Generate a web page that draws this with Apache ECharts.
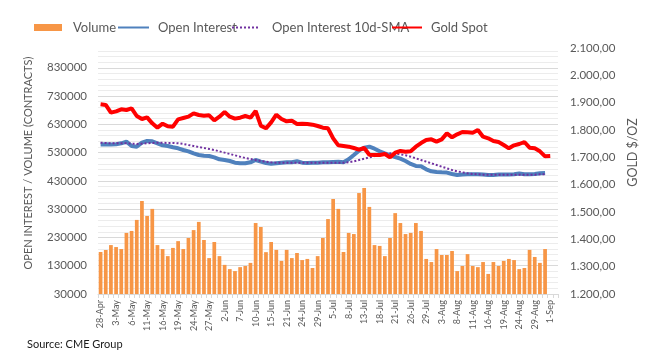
<!DOCTYPE html>
<html>
<head>
<meta charset="utf-8">
<script src="https://cdn.jsdelivr.net/npm/echarts@6/dist/echarts.min.js"></script>
<style>
html,body{margin:0;padding:0;background:#fff;}
#chart{width:656px;height:361px;}
</style>
</head>
<body>
<div id="chart"></div>
<script>
const dates = ["28-Apr","29-Apr","2-May","3-May","4-May","5-May","6-May","9-May","10-May","11-May","12-May","13-May","16-May","17-May","18-May","19-May","20-May","23-May","24-May","25-May","26-May","27-May","31-May","1-Jun","2-Jun","3-Jun","6-Jun","7-Jun","8-Jun","9-Jun","10-Jun","13-Jun","14-Jun","15-Jun","16-Jun","17-Jun","21-Jun","22-Jun","23-Jun","24-Jun","27-Jun","28-Jun","29-Jun","30-Jun","1-Jul","5-Jul","6-Jul","7-Jul","8-Jul","11-Jul","12-Jul","13-Jul","14-Jul","15-Jul","18-Jul","19-Jul","20-Jul","21-Jul","22-Jul","25-Jul","26-Jul","27-Jul","28-Jul","29-Jul","1-Aug","2-Aug","3-Aug","4-Aug","5-Aug","8-Aug","9-Aug","10-Aug","11-Aug","12-Aug","15-Aug","16-Aug","17-Aug","18-Aug","19-Aug","22-Aug","23-Aug","24-Aug","25-Aug","26-Aug","29-Aug","30-Aug","31-Aug","1-Sep",""];

const volume = [178500,185600,203000,196000,189000,246000,253000,292000,359000,306000,331000,203000,189000,164000,193000,217000,189000,228000,256000,285000,221000,157000,214000,164000,133000,118000,111000,125000,129000,140000,281000,267000,178000,214000,186000,147000,186000,157000,175000,150000,154000,122000,164000,
228000,295000,366000,331000,178500,246000,242000,387000,405000,338000,203000,200000,164000,228000,316000,281000,242000,246000,281000,253000,154000,143000,189000,168000,168000,182000,111000,129000,171000,129000,125000,143000,101000,143000,129000,147000,154000,150000,118000,122000,186000,161000,140000,189000];

const openInterest = [559000,559500,559000,559500,562900,568800,553500,551100,565300,571200,570000,562900,555800,553500,548800,545200,539300,534600,527500,521600,519300,518100,513400,506300,504000,500400,494500,492200,492200,495700,504000,498100,493300,491000,492200,494500,495700,495700,499300,494500,493300,494000,494500,
495700,495700,496900,498000,495700,506300,521600,537000,547600,551100,544000,534600,527500,520500,514600,508700,500400,489800,482800,481600,471000,464000,461600,460400,459300,454600,451000,452200,453400,453400,453400,452200,451000,451000,452200,452200,452200,453400,455800,453400,453400,454600,456900,458100];

const oiSma10 = [565300,564100,562900,562900,562900,562900,561700,560600,561700,562900,564100,565300,565300,564100,564100,562900,560600,557000,553500,549900,546400,542900,539300,534600,529900,525200,520500,515700,511000,507500,504000,500400,498100,495700,494500,494500,494500,494500,494500,494500,494500,494500,494500,
494500,494500,494500,494500,494500,495700,499300,504000,508700,513400,518100,522800,526300,527500,526300,524000,520500,515700,509900,504000,498100,492200,486300,480400,474500,468600,463900,460300,456800,454400,453300,452100,452100,452100,452100,452100,452100,452100,452100,452100,452100,452100,453300,453300];

const goldSpot = [1893.9,1891.5,1863.4,1868.3,1875.6,1873.2,1879.3,1851.2,1840.2,1846.3,1824.4,1808.5,1823.2,1813.4,1812.2,1839.0,1843.9,1848.8,1861.0,1854.9,1852.4,1853.7,1835.4,1848.8,1865.8,1848.8,1841.5,1845.1,1851.2,1845.1,1869.5,1815.9,1806.1,1828.0,1856.1,1840.2,1831.7,1834.1,1821.9,1823.2,1821.9,1819.5,1814.6,
1808.5,1806.1,1769.5,1743.9,1741.5,1739.0,1734.1,1728.0,1734.1,1709.7,1708.5,1708.5,1712.2,1700.0,1717.1,1723.2,1720.7,1722.0,1739.0,1752.4,1763.4,1765.9,1757.3,1765.9,1787.8,1773.2,1784.1,1792.7,1791.5,1790.2,1800.0,1775.6,1769.5,1759.8,1756.1,1745.1,1732.9,1743.9,1748.8,1756.1,1735.4,1732.9,1722.0,1703.7,1704.9];

const leftMin = 30000, leftMax = 900000, leftMajor = 100000;
const rightMin = 1200, rightMax = 2100, rightMajor = 100;

const FONT = 'Lato, "Open Sans", sans-serif';
const TXT = '#595959';

function euro(v){
  const n = Math.round(v);
  const th = Math.floor(n/1000), rest = n % 1000;
  const s = th > 0 ? th + '.' + String(rest).padStart(3,'0') : String(rest);
  return s + ',00';
}

function legendAt(name, left, w, h, textPad, isLine){
  const item = {name:name};
  if (isLine) { item.itemStyle = {opacity:0, color:'rgba(0,0,0,0)', borderColor:'rgba(0,0,0,0)', borderWidth:0}; }
  else { item.icon = 'rect'; }
  return {
    left:left, top:21, padding:0, itemWidth:w, itemHeight:h, selectedMode:false,
    textStyle:{fontSize:13,color:TXT,fontFamily:FONT,padding:[0,0,0,textPad]},
    data:[item]
  };
}

const chart = echarts.init(document.getElementById('chart'), null, {renderer:'canvas'});
const gridCols = ['#d9d9d9','transparent','#ececec','transparent','#ececec','transparent','#ececec','transparent','#ececec','transparent'];

chart.setOption({
  backgroundColor:'#fff',
  animation:false,
  textStyle:{fontFamily:FONT},
  title:{text:'Source: CME Group',left:22,top:334,textStyle:{fontSize:11,fontWeight:'normal',color:'#1a1a1a',fontFamily:FONT}},
  legend:[
    legendAt('Volume',34,28,7,6,false),
    legendAt('Open Interest',117,31,7,4,true),
    legendAt('Open Interest 10d-SMA',231,28,7,7,true),
    legendAt('Gold Spot',391,30,7,4,true)
  ],
  grid:{left:98,right:98,top:48,bottom:67,containLabel:false},
  xAxis:{
    type:'category', data:dates, boundaryGap:true,
    axisLine:{lineStyle:{color:'#d9d9d9'}},
    axisTick:{show:true,interval:0,length:4,lineStyle:{color:'#d9d9d9'}},
    axisLabel:{interval:2,rotate:90,fontSize:9,color:TXT,margin:6,fontFamily:FONT}
  },
  yAxis:[{
    type:'value', min:leftMin, max:leftMax, interval:10000,
    name:'OPEN INTEREST / VOLUME (CONTRACTS)', nameLocation:'middle', nameRotate:90, nameGap:64,
    nameTextStyle:{fontSize:11,color:TXT,fontFamily:FONT,padding:[0,0,0,16]},
    axisLine:{show:false}, axisTick:{show:false},
    axisLabel:{fontSize:11.5,color:TXT,margin:11,fontFamily:FONT,
      formatter:function(v){const r=Math.round(v-leftMin);return (r%leftMajor===0)?String(Math.round(v)):'';}},
    splitLine:{show:true,lineStyle:{color:gridCols,width:1}}
  },{
    type:'value', min:rightMin, max:rightMax, interval:rightMajor, position:'right',
    name:'GOLD $/OZ', nameLocation:'middle', nameRotate:90, nameGap:68,
    nameTextStyle:{fontSize:12.5,color:TXT,fontFamily:FONT,padding:[0,0,0,37]},
    axisLine:{show:false}, axisTick:{show:false}, splitLine:{show:false},
    axisLabel:{fontSize:11.5,color:TXT,margin:12,fontFamily:FONT,formatter:euro}
  }],
  series:[
    {name:'Volume',type:'bar',data:volume,yAxisIndex:0,barCategoryGap:'28%',itemStyle:{color:'#F79646'}},
    {name:'Open Interest',type:'line',data:openInterest,yAxisIndex:0,symbol:'none',lineStyle:{color:'#4F81BD',width:4},itemStyle:{color:'#4F81BD'}},
    {name:'Open Interest 10d-SMA',type:'line',data:oiSma10,yAxisIndex:0,symbol:'none',lineStyle:{color:'#7030A0',width:2,type:'dotted'},itemStyle:{color:'#7030A0'}},
    {name:'Gold Spot',type:'line',data:goldSpot,yAxisIndex:1,symbol:'none',lineStyle:{color:'#FF0000',width:4},itemStyle:{color:'#FF0000'}}
  ]
});
</script>
</body>
</html>
